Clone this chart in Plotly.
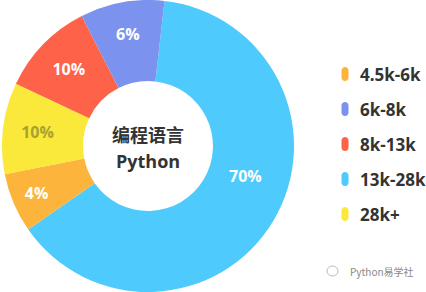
import plotly.graph_objects as go

# ---- data ----
categories = ["4.5k-6k", "6k-8k", "8k-13k", "13k-28k", "28k+"]
shares = [6.6, 9.3, 10.5, 63.5, 10.1]          # slice sizes as drawn
pct_labels = ["4%", "6%", "10%", "70%", "10%"]  # printed labels
colors = ["#FDB43C", "#7B93EF", "#FE6248", "#4FCAFD", "#FAE83B"]
label_colors = ["#FFFFFF", "#FFFFFF", "#FFFFFF", "#FFFFFF", "#A9A12F"]
draw_order = [3, 0, 4, 2, 1]                    # clockwise from top
center_title = ["编程语言", "Python"]
watermark = "Python易学社"

W, H = 426, 292
BIG = 3  # index of the large slice whose label sits off the mid-angle

def px(x):
    return x / W

def py(y):
    return 1 - y / H

slice_text = [("" if i == BIG else pct_labels[i]) for i in draw_order]

fig = go.Figure()
fig.add_trace(go.Pie(
    labels=[categories[i] for i in draw_order],
    values=[shares[i] for i in draw_order],
    text=slice_text,
    marker=dict(colors=[colors[i] for i in draw_order], line=dict(width=0)),
    textfont=dict(color=[label_colors[i] for i in draw_order], size=16,
                  family="Open Sans"),
    texttemplate="<b>%{text}</b>",
    textposition="inside",
    insidetextorientation="horizontal",
    hole=0.445,
    sort=False,
    direction="clockwise",
    rotation=6.5,
    domain=dict(x=[px(2), px(294)], y=[0, 1]),
    showlegend=False,
    hoverinfo="skip",
))

# label of the large slice
fig.add_annotation(
    x=px(245), y=py(176), xref="paper", yref="paper",
    text="<b>" + pct_labels[BIG] + "</b>", showarrow=False,
    xanchor="center", yanchor="middle",
    font=dict(size=16, color=label_colors[BIG], family="Open Sans"),
)

# center text
fig.add_annotation(
    x=px(148), y=py(148), xref="paper", yref="paper",
    text="<b>" + center_title[0] + "</b>",
    showarrow=False, xanchor="center", yanchor="bottom", borderpad=0,
    font=dict(size=18, color="#333333", family="Noto Sans CJK SC"),
)
fig.add_annotation(
    x=px(148), y=py(148), xref="paper", yref="paper",
    text="<b>" + center_title[1] + "</b>",
    showarrow=False, xanchor="center", yanchor="top", borderpad=0,
    font=dict(size=18, color="#333333", family="Open Sans"),
)

# legend
shapes = []
for i, name in enumerate(categories):
    yc = 74 + i * 35
    shapes.append(dict(
        type="path", xref="paper", yref="paper",
        xsizemode="pixel", ysizemode="pixel",
        xanchor=px(345), yanchor=py(yc),
        path="M -3.5,-3.5 L -3.5,3.5 C -3.5,8.2 3.5,8.2 3.5,3.5 L 3.5,-3.5 C 3.5,-8.2 -3.5,-8.2 -3.5,-3.5 Z",
        fillcolor=colors[i], line=dict(width=0),
    ))
    fig.add_annotation(
        x=px(358), y=py(yc), xref="paper", yref="paper",
        text="<b>" + name + "</b>", showarrow=False,
        xanchor="left", yanchor="middle",
        font=dict(size=17, color="#333333", family="Open Sans"),
    )

# watermark
shapes.append(dict(type="circle", xref="paper", yref="paper",
                   x0=px(327), x1=px(338), y0=py(276), y1=py(266),
                   line=dict(color="#BBBBBB", width=1)))
fig.add_annotation(
    x=px(348), y=py(271), xref="paper", yref="paper",
    text=watermark, showarrow=False, xanchor="left", yanchor="middle",
    font=dict(size=10, color="#888888", family="Noto Sans CJK SC"),
)

fig.update_layout(
    width=W, height=H,
    margin=dict(l=0, r=0, t=0, b=0),
    paper_bgcolor="white", plot_bgcolor="white",
    shapes=shapes,
)

fig.write_html("out.html")
